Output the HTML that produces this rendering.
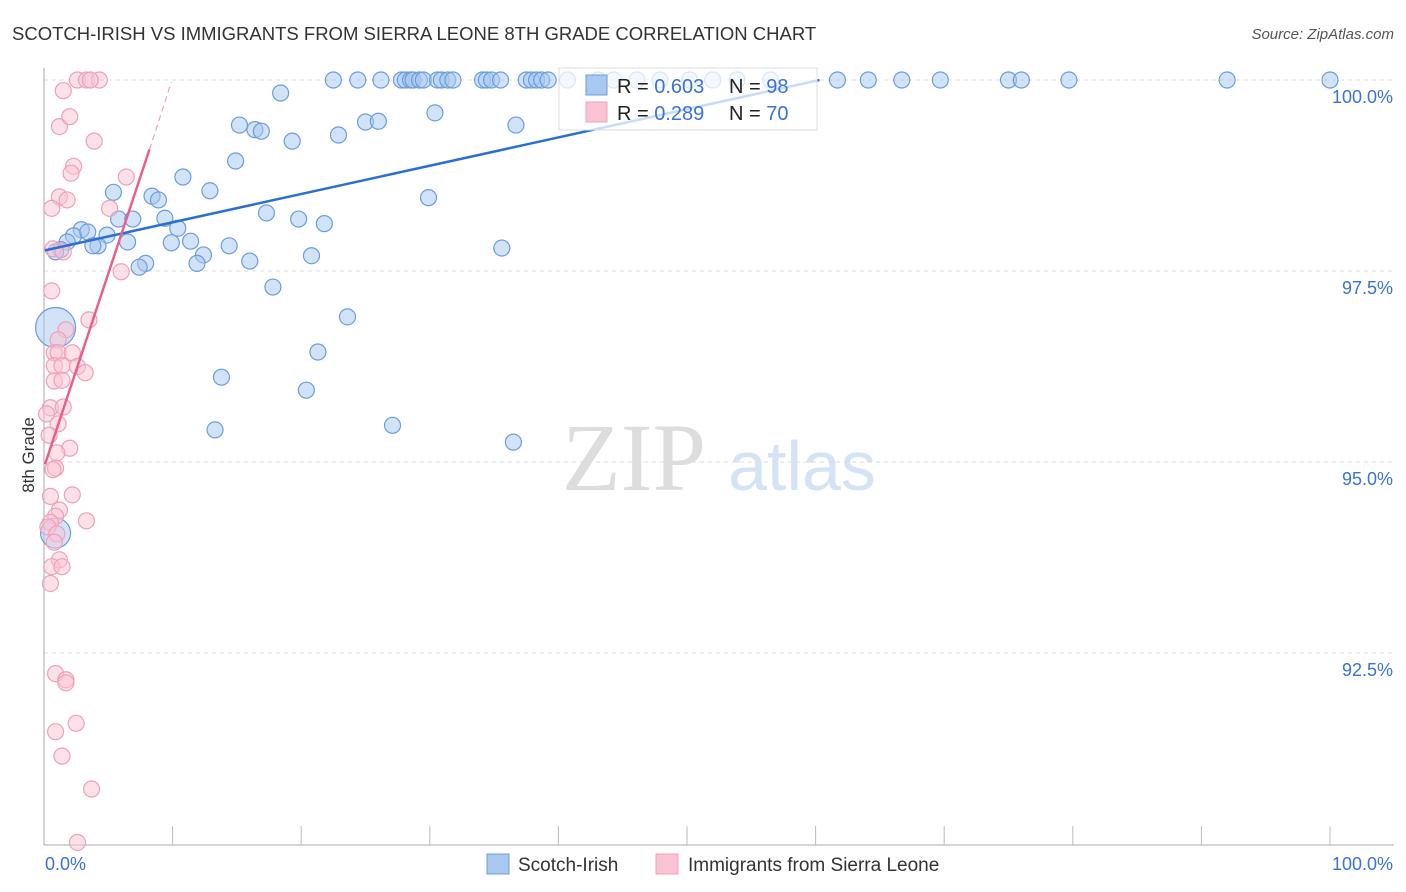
<!DOCTYPE html>
<html><head><meta charset="utf-8"><style>
body{margin:0;background:#fff;font-family:"Liberation Sans",sans-serif}
svg{display:block}
</style></head><body>
<svg id="c" width="1406" height="892" xmlns="http://www.w3.org/2000/svg">
<text x="12" y="40" font-size="18.5" fill="#333">SCOTCH-IRISH VS IMMIGRANTS FROM SIERRA LEONE 8TH GRADE CORRELATION CHART</text>
<text x="1394" y="39" font-size="15" fill="#555" font-style="italic" text-anchor="end">Source: ZipAtlas.com</text>
<text x="34" y="455" font-size="17" fill="#333" text-anchor="middle" transform="rotate(-90 34 455)">8th Grade</text>
<g><text x="634" y="490" font-size="96" fill="#ddd" font-family="Liberation Serif" text-anchor="middle">ZIP</text><text x="802" y="490" font-size="70" fill="#d5e3f4" text-anchor="middle">atlas</text></g>
<g id="grid"></g><g id="axes"></g><g id="pts"></g><g id="trend"></g>
<g>
<rect x="559" y="68" width="258" height="62" fill="#fff" fill-opacity="0.75" stroke="#ddd"/>
<rect x="586" y="75" width="21" height="20" fill="#a8c8f0" stroke="#6a9de0"/>
<rect x="586" y="102" width="21" height="20" fill="#f9c3d3" stroke="#f0a0b8"/>
<text x="617" y="93" font-size="20" fill="#222">R = <tspan fill="#3a72d8">0.603</tspan><tspan x="729">N = </tspan><tspan fill="#3a72d8">98</tspan></text>
<text x="617" y="120" font-size="20" fill="#222">R = <tspan fill="#3a72d8">0.289</tspan><tspan x="729">N = </tspan><tspan fill="#3a72d8">70</tspan></text>
</g>
<g>
<rect x="487" y="854" width="22" height="20" fill="#a8c8f0" stroke="#6a9de0"/><text x="518" y="871" font-size="19" fill="#333">Scotch-Irish</text>
<rect x="656" y="854" width="22" height="20" fill="#f9c3d3" stroke="#f0a0b8"/><text x="688" y="871" font-size="19" fill="#333">Immigrants from Sierra Leone</text>
</g>
</svg>
<script>
const yTicks=[100,97.5,95,92.5];
const yTickLabels=["100.0%","97.5%","95.0%","92.5%"];
const blueX=[22.5,24.4,26.2,27.8,28.1,28.5,28.7,29.2,29.5,30.6,30.9,31.4,31.8,34.1,34.4,34.8,35.5,37.5,37.9,38.3,38.7,39.2,40.7,43.1,44.3,46.1,47.9,50.2,52,53.9,56.5,61.7,64.1,66.7,69.7,75,76,79.7,92,100,
18.4,15.2,16.4,16.9,19.3,22.9,25.0,26.0,30.4,36.7,14.9,10.8,12.9,5.4,8.4,8.9,29.9,17.3,19.8,21.8,5.8,6.9,9.4,10.4,2.9,2.3,1.8,3.4,4.9,4.2,3.8,1.3,0.9,6.5,9.9,11.4,14.4,12.4,11.9,7.9,7.4,16.0,20.8,35.6,17.8,23.6,21.3,13.8,20.4,13.3,27.1,36.5,0.9,0.9];
const blueY=[100,100,100,100,100,100,100,100,100,100,100,100,100,100,100,100,100,100,100,100,100,100,100,100,100,100,100,100,100,100,100,100,100,100,100,100,100,100,100,100,
99.83,99.41,99.35,99.33,99.2,99.28,99.45,99.46,99.57,99.41,98.94,98.73,98.55,98.53,98.48,98.43,98.46,98.26,98.18,98.12,98.18,98.18,98.19,98.06,98.04,97.96,97.88,98.01,97.97,97.83,97.83,97.78,97.75,97.88,97.87,97.89,97.83,97.71,97.6,97.6,97.55,97.63,97.7,97.8,97.29,96.9,96.44,96.11,95.94,95.42,95.48,95.26,96.76,94.07];
const blueR=[];for(let i=0;i<blueX.length;i++)blueR.push(8);blueR[blueR.length-2]=20;blueR[blueR.length-1]=15;
const pinkX=[2.6,3.3,4.3,3.6,1.5,1.2,2,3.9,2.3,2.1,6.4,1.2,1.8,0.6,5.1,0.7,1.5,0.6,6,3.5,1.7,1.1,0.8,1.1,2.2,0.8,1.4,2.6,3.2,0.8,1.4,0.5,1.5,0.2,1.1,0.4,2.0,1,0.9,0.7,2.2,0.5,1.2,3.3,0.9,0.5,0.3,1,0.8,1.2,0.6,1.4,0.5,0.9,1.7,1.7,2.5,0.9,1.4,3.7,2.6];
const pinkY=[100,100,100,100,99.86,99.39,99.52,99.2,98.87,98.78,98.73,98.47,98.43,98.32,98.32,97.79,97.75,97.24,97.49,96.86,96.73,96.6,96.43,96.43,96.43,96.26,96.26,96.25,96.17,96.06,96.07,95.71,95.72,95.63,95.5,95.35,95.18,95.12,94.92,94.9,94.57,94.55,94.37,94.23,94.29,94.21,94.15,94.06,93.95,93.72,93.63,93.63,93.41,92.23,92.15,92.11,91.58,91.47,91.15,90.72,90.02];
const blueTrend=[[0.08,97.77],[60.3,100]];
const pinkTrendSolid=[[0.08,94.97],[8.2,99.09]];
const pinkTrendDash=[[8.2,99.09],[9.9,99.97]];
const NS="http://www.w3.org/2000/svg";
const X=v=>44+v*12.86, Y=v=>80+(100-v)*76.4;
function mk(p,t,a){const e=document.createElementNS(NS,t);for(const k in a)e.setAttribute(k,a[k]);document.getElementById(p).appendChild(e);return e;}
yTicks.forEach((t,i)=>{
 const g=mk('grid','line',{x1:44,x2:1394,y1:Y(t),y2:Y(t),stroke:'#ddd','stroke-dasharray':'4 4'});
 
 
 const l=mk('grid','text',{x:1393,y:Y(t)+23,'font-size':18,fill:'#3a72d8','text-anchor':'end'});l.textContent=yTickLabels[i];
 
 
});
let ax=mk('axes','line',{x1:44,x2:44,y1:68,y2:845,stroke:'#aaa'});

ax=mk('axes','line',{x1:44,x2:1394,y1:845,y2:845,stroke:'#aaa'});

for(let i=1;i<=10;i++){const t=mk('axes','line',{x1:X(i*10),x2:X(i*10),y1:826,y2:845,stroke:'#bbb'});
 
 }
let xl=mk('axes','text',{x:45,y:870,'font-size':18,fill:'#3a72d8'});xl.textContent='0.0%';

xl=mk('axes','text',{x:1393,y:870,'font-size':18,fill:'#3a72d8','text-anchor':'end'});xl.textContent='100.0%';

blueX.forEach((v,i)=>{const c=mk('pts','circle',{cx:X(v),cy:Y(blueY[i]),r:blueR[i],fill:'#a8c8f0','fill-opacity':0.5,stroke:'#6a9de0','stroke-width':1.2});
 
 });
pinkX.forEach((v,i)=>{const c=mk('pts','circle',{cx:X(v),cy:Y(pinkY[i]),r:8,fill:'#f9c3d3','fill-opacity':0.5,stroke:'#f0a0b8','stroke-width':1.2});
 
 });
let tl=mk('trend','line',{x1:X(blueTrend[0][0]),y1:Y(blueTrend[0][1]),x2:X(blueTrend[1][0]),y2:Y(blueTrend[1][1]),stroke:'#2a6fd6','stroke-width':2.5});

tl=mk('trend','line',{x1:X(pinkTrendSolid[0][0]),y1:Y(pinkTrendSolid[0][1]),x2:X(pinkTrendSolid[1][0]),y2:Y(pinkTrendSolid[1][1]),stroke:'#e8608a','stroke-width':2.5});

tl=mk('trend','line',{x1:X(pinkTrendDash[0][0]),y1:Y(pinkTrendDash[0][1]),x2:X(pinkTrendDash[1][0]),y2:Y(pinkTrendDash[1][1]),stroke:'#f0a0b8','stroke-width':1.2,'stroke-dasharray':'6 4'});

</script>
</body></html>
